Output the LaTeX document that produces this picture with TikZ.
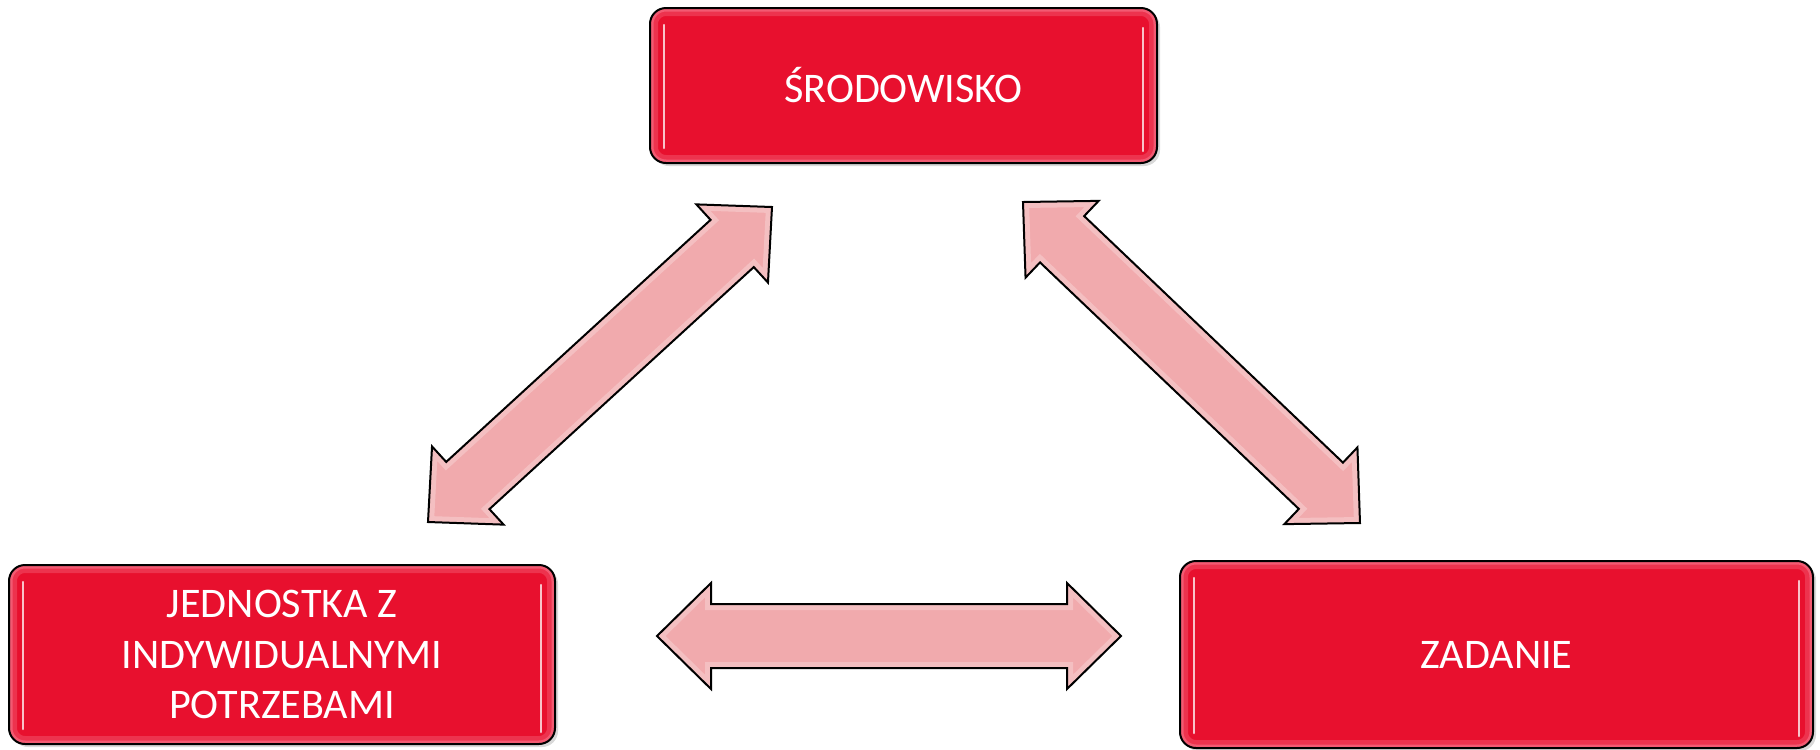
\documentclass[tikz,border=0pt]{standalone}
\usepackage{fontspec}
\setmainfont{Carlito}
\usetikzlibrary{calc}
\usetikzlibrary{shadows}

\definecolor{boxred}{HTML}{E8102E}
\definecolor{glowred}{HTML}{F7758A}
\definecolor{arrowpink}{HTML}{F1AAAD}

% head length, head half width, shaft half width
\newcommand{\arrowhl}{0.54cm}
\newcommand{\arrowhw}{0.53cm}
\newcommand{\arrowsw}{0.32cm}

\newcommand{\fatarrow}[2]{%
  \path[save path=\fatpath] (#1)
    -- ($(#1)!\arrowhl!(#2)!\arrowhw!90:(#2)$)
    -- ($(#1)!\arrowhl!(#2)!\arrowsw!90:(#2)$)
    -- ($(#2)!\arrowhl!(#1)!\arrowsw!-90:(#1)$)
    -- ($(#2)!\arrowhl!(#1)!\arrowhw!-90:(#1)$)
    -- (#2)
    -- ($(#2)!\arrowhl!(#1)!\arrowhw!90:(#1)$)
    -- ($(#2)!\arrowhl!(#1)!\arrowsw!90:(#1)$)
    -- ($(#1)!\arrowhl!(#2)!\arrowsw!-90:(#2)$)
    -- ($(#1)!\arrowhl!(#2)!\arrowhw!-90:(#2)$)
    -- cycle;
  \fill[arrowpink, use path=\fatpath];
  \begin{scope}
    \clip[use path=\fatpath];
    \draw[white, opacity=0.25, line width=0.12cm, line join=miter, use path=\fatpath];
  \end{scope}
  \draw[fatarrow, use path=\fatpath];}

\tikzset{
  redbox/.style={draw=black, line width=0.02cm, fill=boxred, rounded corners=0.16cm,
    text=white, align=center, font=\fontsize{12}{14.4}\selectfont, inner sep=0pt,
    drop shadow={shadow xshift=0.03cm, shadow yshift=-0.03cm, opacity=0.3},
    path picture={
      \draw[glowred, line width=0.16cm, opacity=0.35, rounded corners=0.16cm]
        (path picture bounding box.south west) rectangle (path picture bounding box.north east);
      \draw[glowred, line width=0.07cm, opacity=0.6, rounded corners=0.16cm]
        (path picture bounding box.south west) rectangle (path picture bounding box.north east);
      \draw[gloss] ([shift={(0.14cm,-0.17cm)}]path picture bounding box.north west)
        -- ([shift={(0.14cm,0.15cm)}]path picture bounding box.south west);
      \draw[gloss] ([shift={(-0.14cm,-0.2cm)}]path picture bounding box.north east)
        -- ([shift={(-0.14cm,0.12cm)}]path picture bounding box.south east);
    }},
  gloss/.style={white, line width=0.025cm, opacity=0.75, line cap=round},
  fatarrow/.style={draw=black, line width=0.02cm, line join=miter},
}

\begin{document}
\begin{tikzpicture}
\useasboundingbox (0,0) rectangle (18.2,7.49);

\node[redbox, minimum width=5.07cm, minimum height=1.55cm] (srod) at (9.035,6.635) {ŚRODOWISKO};
\node[redbox, minimum width=5.46cm, minimum height=1.79cm] (jedn) at (2.82,0.945) {JEDNOSTKA Z\\INDYWIDUALNYMI\\POTRZEBAMI};
\node[redbox, minimum width=6.33cm, minimum height=1.87cm] (zad) at (14.965,0.945) {ZADANIE};

\coordinate (js) at (4.28,2.27);
\coordinate (sj) at (7.72,5.42);
\coordinate (sz) at (10.23,5.47);
\coordinate (zs) at (13.60,2.26);
\coordinate (jz) at (6.57,1.13);
\coordinate (zj) at (11.21,1.13);

\fatarrow{js}{sj}
\fatarrow{sz}{zs}
\fatarrow{jz}{zj}
\end{tikzpicture}
\end{document}
